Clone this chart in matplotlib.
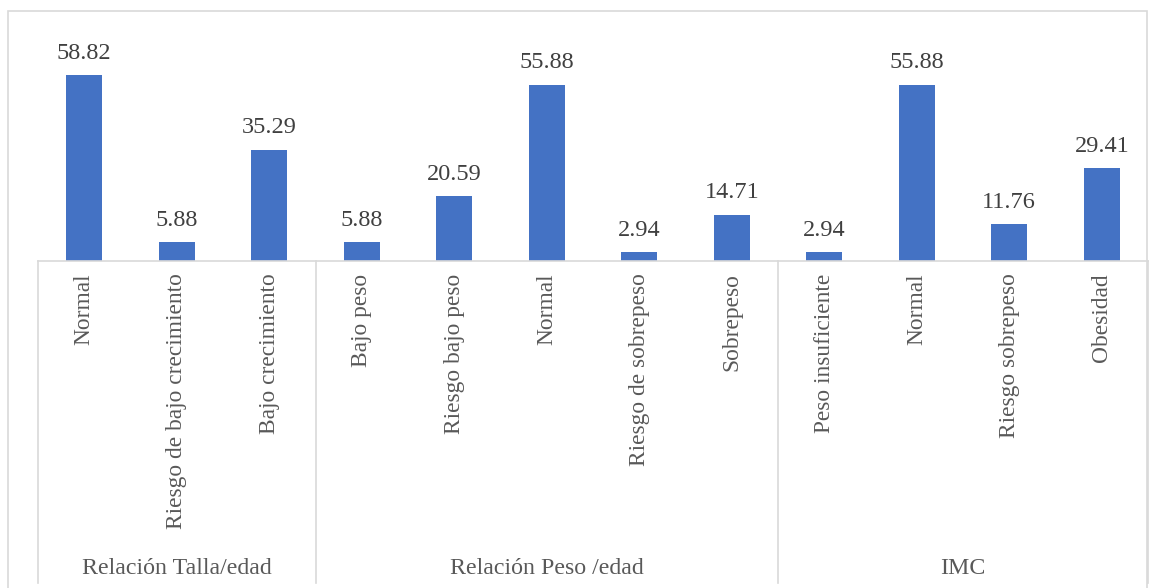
import matplotlib.pyplot as plt
import matplotlib.transforms as mtransforms
from matplotlib.patches import Rectangle
import numpy as np

# Data
categories = ["Normal", "Riesgo de bajo crecimiento", "Bajo crecimiento",
              "Bajo peso", "Riesgo bajo peso", "Normal", "Riesgo de sobrepeso", "Sobrepeso",
              "Peso insuficiente", "Normal", "Riesgo sobrepeso", "Obesidad"]
values = [58.82, 5.88, 35.29,
          5.88, 20.59, 55.88, 2.94, 14.71,
          2.94, 55.88, 11.76, 29.41]
groups = ["Relación Talla/edad", "Relación Peso /edad", "IMC"]
group_sizes = [3, 5, 4]

plt.rcParams['font.family'] = ['Liberation Serif', 'DejaVu Serif']

W, H = 1163, 588
fig = plt.figure(figsize=(W / 100, H / 100), dpi=100)

# axes placed in pixel terms: baseline at y=261, top at y=40, x from 38 to 1148
ax = fig.add_axes([38 / W, 1 - 261 / H, (1148 - 38) / W, (261 - 40) / H])

x = np.arange(len(values))
bars = ax.bar(x, values, width=0.39, color="#4472C4", zorder=2)
ax.set_xlim(-0.5, len(values) - 0.5)
ax.set_ylim(0, 70)

for bar, v in zip(bars, values):
    ax.annotate(f"{v:.2f}", (bar.get_x() + bar.get_width() / 2, v),
                xytext=(0, 8), textcoords="offset points",
                ha="center", va="bottom", fontsize=17.5, color="#404040")

for xi, cat in zip(x, categories):
    ax.annotate(cat, (xi, 0), xytext=(0, -9), textcoords="offset points",
                ha="center", va="top", rotation=90, fontsize=16.8, color="#595959",
                annotation_clip=False)

# spines / ticks
for s in ["top", "right", "left"]:
    ax.spines[s].set_visible(False)
ax.spines["bottom"].set_color("#d9d9d9")
ax.spines["bottom"].set_linewidth(1.2)
ax.set_xticks([])
ax.set_yticks([])

# group separators and labels
trans = mtransforms.blended_transform_factory(ax.transData, ax.transAxes)
bottom_y = -(583 - 261) / (261 - 40)
label_y = -(568 - 261) / (261 - 40)
edges = np.concatenate([[0], np.cumsum(group_sizes)]) - 0.5
for e in edges:
    ax.plot([e, e], [0, bottom_y], transform=trans, color="#d9d9d9",
            lw=1.2, clip_on=False)
for g, a, b in zip(groups, edges[:-1], edges[1:]):
    ax.text((a + b) / 2, label_y, g, transform=trans, ha="center", va="center",
            fontsize=17.2, color="#595959")

# outer chart border (open at the bottom)
fig.patches.append(Rectangle((8 / W, -0.1), (1147 - 8) / W, 1 - 11 / H + 0.1,
                             transform=fig.transFigure, fill=False,
                             edgecolor="#d9d9d9", lw=1.2))

fig.savefig("out.png", dpi=100, facecolor="white")
